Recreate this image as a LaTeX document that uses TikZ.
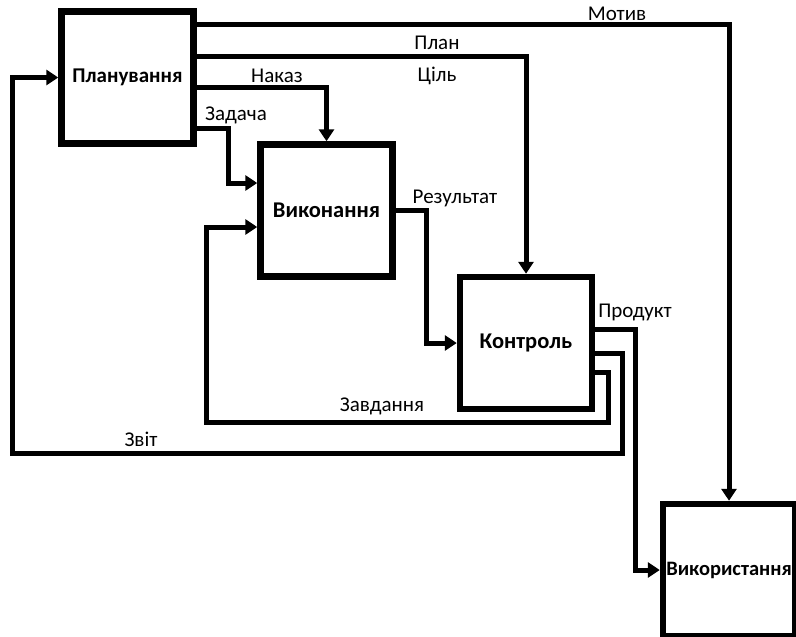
\documentclass[tikz,border=0pt]{standalone}
\usepackage{fontspec}
\setmainfont{Carlito}
\usetikzlibrary{arrows.meta,calc}
\begin{document}
\begin{tikzpicture}[x=1pt,y=-1pt,
  blk/.style={draw,line width=6.5pt,minimum width=132pt,minimum height=132pt,inner sep=0pt,font=\fontsize{22.5}{24}\selectfont\bfseries},
  conn/.style={line width=5pt},
  arr/.style={conn,-{Triangle[length=12pt,width=15pt]}},
  lbl/.style={font=\fontsize{21}{23}\selectfont,inner sep=0pt}]
\useasboundingbox (0,0) rectangle (796,637);
\node[blk] (P) at (127.5,77.5) {\fontsize{21}{23}\selectfont Планування};
\node[blk] (V) at (326.5,210.5) {Виконання};
\node[blk] (K) at (526,343) {Контроль};
\node[blk] (U) at (729,570) {\fontsize{20.5}{22}\selectfont Використання};
% bend points
\coordinate (zb) at (228,183);
\coordinate (rb) at (426,343);
\coordinate (pb) at (635,570);
\coordinate (zv1) at (622,453);
\coordinate (zv2) at (12,77.5);
\coordinate (zd1) at (608,422);
\coordinate (zd2) at (206,227);
% connectors
\draw[arr] ([yshift=-16pt]P.north east) -| (U.north);
\draw[arr] ([yshift=-48pt]P.north east) -| (K.north);
\draw[arr] ([yshift=-79pt]P.north east) -| (V.north);
\draw[arr] ([yshift=-120pt]P.north east) -| (zb) -- (zb -| V.west);
\draw[arr] (V.east) -| (rb) -- (K.west);
\draw[arr] ([yshift=14pt]K.east) -| (pb) -- (U.west);
\draw[arr] ([yshift=-10pt]K.east) -| (zv1) -| (zv2) -- (P.west);
\draw[arr] ([yshift=-29pt]K.east) -| (zd1) -| (zd2) -- (zd2 -| V.west);
% labels
\node[lbl] (lm) at (617,14) {Мотив};
\node[lbl] (lp) at (437,43) {План};
\node[lbl] (lc) at (437,76) {Ціль};
\node[lbl] (ln) at (277,76) {Наказ};
\node[lbl] (lz) at (236,115) {Задача};
\node[lbl] (lr) at (455,198) {Результат};
\node[lbl] (lpr) at (635,312) {Продукт};
\node[lbl] (lzv) at (382,406) {Завдання};
\node[lbl] (lzt) at (141,439) {Звіт};
\end{tikzpicture}
\end{document}
